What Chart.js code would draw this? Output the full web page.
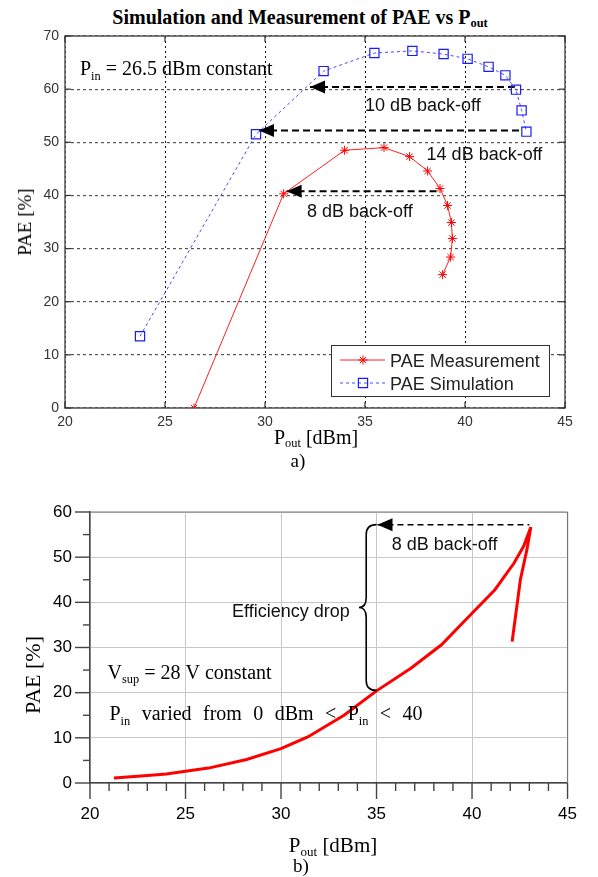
<!DOCTYPE html>
<html>
<head>
<meta charset="utf-8">
<script src="https://cdn.jsdelivr.net/npm/chart.js@4.4.1/dist/chart.umd.min.js"></script>
<style>
  body { margin: 0; background: #fff; }
  #page { position: relative; width: 598px; height: 877px; overflow: hidden; }
  .lbl { position: absolute; white-space: nowrap; font-family: "Liberation Serif", "Times New Roman", serif; color: #000; transform: translate(-50%, -50%); }
  .lbl sub { font-size: 0.62em; vertical-align: baseline; position: relative; top: 0.28em; }
  .rot { transform: translate(-50%, -50%) rotate(-90deg); }
  canvas { position: absolute; left: 0; }
</style>
</head>
<body>
<div id="page">
  <div class="lbl" style="left:300px;top:17px;font-weight:bold;font-size:20px">Simulation and Measurement of PAE vs P<sub>out</sub></div>
  <canvas id="topChart" width="598" height="470" style="top:0"></canvas>
  <div class="lbl rot" style="left:25px;top:222px;font-size:19px">PAE [%]</div>
  <div class="lbl" style="left:316px;top:437px;font-size:20px">P<sub>out</sub> [dBm]</div>
  <div class="lbl" style="left:298px;top:461px;font-size:19px">a)</div>

  <canvas id="bottomChart" width="598" height="397" style="top:480px"></canvas>
  <div class="lbl rot" style="left:33px;top:675px;font-size:22px">PAE [%]</div>
  <div class="lbl" style="left:333px;top:845px;font-size:21px">P<sub>out</sub> [dBm]</div>
  <div class="lbl" style="left:301px;top:866px;font-size:19px">b)</div>
</div>
<script>
const SANS = '"Liberation Sans", Arial, sans-serif'
const SERIF = '"Liberation Serif", "Times New Roman", serif'

// ---- chart a) : measured and simulated PAE vs Pout ----
const measX = [26.45, 30.93, 33.98, 35.95, 37.23, 38.13, 38.75, 39.13, 39.32, 39.37, 39.28, 38.88]
const measY = [0, 40.3, 48.5, 49.0, 47.3, 44.6, 41.3, 38.1, 34.9, 31.9, 28.4, 25.1]
const simX = [23.75, 29.55, 32.93, 35.47, 37.37, 38.93, 40.13, 41.18, 42.02, 42.55, 42.83, 43.07]
const simY = [13.5, 51.5, 63.4, 66.8, 67.2, 66.6, 65.7, 64.2, 62.6, 59.9, 56.0, 52.0]
const topXTicks = [20, 25, 30, 35, 40, 45]
const topYTicks = [0, 10, 20, 30, 40, 50, 60, 70]
// back-off arrows: tip (left), start (right), level
const topArrowTip = [32.25, 29.7, 31.08]
const topArrowFrom = [42.55, 42.83, 38.58]
const topArrowY = [60.4, 52.2, 40.8]
const topNotes = ["10 dB back-off", "14 dB back-off", "8 dB back-off"]
const topNoteX = [35.0, 38.08, 32.1]
const topNoteY = [57.1, 47.9, 37.1]

// ---- chart b) : PAE vs Pout with Pin sweep ----
const sweepX = [21.25, 22.5, 24.0, 25.0, 26.2, 28.2, 30.0, 31.4, 33.3, 35.0, 36.8, 38.4, 40.0, 41.2, 42.2, 42.7, 43.08, 42.87, 42.53, 42.1]
const sweepY = [1.1, 1.5, 2.0, 2.6, 3.3, 5.2, 7.6, 10.2, 15.0, 20.4, 25.4, 30.6, 37.6, 42.8, 48.7, 52.4, 56.7, 51.6, 45.0, 31.3]
const botXTicks = [20, 25, 30, 35, 40, 45]
const botYTicks = [0, 10, 20, 30, 40, 50, 60]
const botArrowTip = 35.05
const botArrowFrom = 43.0
const botArrowY = 57.2
// efficiency drop brace (spine x, tip x, from y, to y)
const braceX = 34.46, braceTipX = 34.08, braceEndX = 35.0, braceTop = 57.2, braceBottom = 20.5

function pts(xs, ys) {
    return xs.map((x, i) => ({x: x, y: ys[i]}))
}

function line(ctx, x1, y1, x2, y2) {
    ctx.beginPath(); ctx.moveTo(x1, y1); ctx.lineTo(x2, y2); ctx.stroke()
}

// text with subscripts: parts = [[text, isSub], ...], y = baseline
function richText(ctx, parts, x, y, size, family, gap) {
    let cx = x
    parts.forEach(p => {
        if (p[0] === ' ') { cx += gap; return }
        ctx.font = (p[1] ? size * 0.62 : size) + 'px ' + family
        ctx.fillText(p[0], cx, p[1] ? y + size * 0.22 : y)
        cx += ctx.measureText(p[0]).width
    })
}

function arrowHead(ctx, px, py, len, half) {
    ctx.beginPath()
    ctx.moveTo(px, py)
    ctx.lineTo(px + len, py - half)
    ctx.lineTo(px + len, py + half)
    ctx.closePath()
    ctx.fill()
}

const topDecor = {
    id: 'topDecor',
    afterDatasetsDraw(chart) {
        const {ctx, chartArea: a, scales: {x, y}} = chart
        ctx.save()
        // frame and inner ticks, matlab style
        ctx.strokeStyle = '#555'; ctx.lineWidth = 1.5
        ctx.strokeRect(a.left, a.top, a.right - a.left, a.bottom - a.top)
        ctx.lineWidth = 1.2; ctx.strokeStyle = '#333'
        topXTicks.forEach(v => {
            const px = x.getPixelForValue(v)
            line(ctx, px, a.bottom, px, a.bottom - 6)
            line(ctx, px, a.top, px, a.top + 6)
        })
        topYTicks.forEach(v => {
            const py = y.getPixelForValue(v)
            line(ctx, a.left, py, a.left + 6, py)
            line(ctx, a.right, py, a.right - 6, py)
        })
        // arrow heads
        ctx.fillStyle = '#000'
        topArrowTip.forEach((t, i) => arrowHead(ctx, x.getPixelForValue(t), y.getPixelForValue(topArrowY[i]), 15, 6.5))
        // notes
        ctx.fillStyle = '#111'; ctx.textBaseline = 'alphabetic'
        ctx.font = '18px ' + SANS
        topNotes.forEach((t, i) => ctx.fillText(t, x.getPixelForValue(topNoteX[i]), y.getPixelForValue(topNoteY[i]) + 6.5))
        ctx.fillStyle = '#000'
        richText(ctx, [['P', 0], ['in', 1], [' = 26.5 dBm constant', 0]], x.getPixelForValue(20.75), y.getPixelForValue(63.9) + 7, 20, SERIF, 0)
        // legend box
        const bw = 218, bh = 51
        const bx = a.right - 16 - bw, by = a.bottom - 12 - bh
        ctx.fillStyle = '#fff'; ctx.fillRect(bx, by, bw, bh)
        ctx.strokeStyle = '#333'; ctx.lineWidth = 1; ctx.strokeRect(bx + 0.5, by + 0.5, bw, bh)
        const rows = chart.data.datasets.slice(0, 2)
        rows.forEach((ds, i) => {
            const ly = by + 15 + i * 23
            ctx.strokeStyle = ds.borderColor; ctx.lineWidth = 1
            ctx.setLineDash(ds.borderDash || [])
            line(ctx, bx + 9, ly, bx + 54, ly)
            ctx.setLineDash([])
            ctx.strokeStyle = ds.pointBorderColor; ctx.lineWidth = ds.pointBorderWidth
            ctx.fillStyle = 'rgba(0,0,0,0)'
            Chart.helpers.drawPoint(ctx, {pointStyle: ds.pointStyle, radius: ds.pointRadius, borderWidth: ds.pointBorderWidth}, bx + 32, ly)
            ctx.fillStyle = '#222'; ctx.font = '18px ' + SANS
            ctx.fillText(ds.label, bx + 59, ly + 6.5)
        })
        ctx.restore()
    }
}

const bottomDecor = {
    id: 'bottomDecor',
    afterDatasetsDraw(chart) {
        const {ctx, chartArea: a, scales: {x, y}} = chart
        ctx.save()
        // top / right frame
        ctx.strokeStyle = '#777'; ctx.lineWidth = 1.2
        line(ctx, a.left, a.top, a.right, a.top)
        line(ctx, a.right, a.top, a.right, a.bottom)
        // outside ticks with minor ticks
        ctx.strokeStyle = '#444'; ctx.lineWidth = 1.4
        for (let v = 20; v <= 45; v++) {
            const px = x.getPixelForValue(v)
            line(ctx, px, a.bottom, px, a.bottom + (v % 5 === 0 ? 16 : 8))
        }
        for (let v = 0; v <= 60; v += 5) {
            const py = y.getPixelForValue(v)
            line(ctx, a.left, py, a.left - (v % 10 === 0 ? 15 : 7), py)
        }
        // arrow head
        ctx.fillStyle = '#000'
        arrowHead(ctx, x.getPixelForValue(botArrowTip), y.getPixelForValue(botArrowY), 15, 6.5)
        // brace
        const xs = x.getPixelForValue(braceX), xt = x.getPixelForValue(braceTipX), xe = x.getPixelForValue(braceEndX)
        const y0 = y.getPixelForValue(braceTop), y1 = y.getPixelForValue(braceBottom), ym = (y0 + y1) / 2, r = 10
        ctx.strokeStyle = '#000'; ctx.lineWidth = 1.6
        ctx.beginPath()
        ctx.moveTo(xe, y0)
        ctx.quadraticCurveTo(xs, y0, xs, y0 + r)
        ctx.lineTo(xs, ym - r)
        ctx.quadraticCurveTo(xs, ym, xt, ym)
        ctx.quadraticCurveTo(xs, ym, xs, ym + r)
        ctx.lineTo(xs, y1 - r)
        ctx.quadraticCurveTo(xs, y1, xe, y1)
        ctx.stroke()
        // notes
        ctx.fillStyle = '#111'; ctx.textBaseline = 'alphabetic'
        ctx.font = '18px ' + SANS
        ctx.fillText('8 dB back-off', x.getPixelForValue(35.8), y.getPixelForValue(53.1) + 6.5)
        ctx.textAlign = 'right'
        ctx.fillText('Efficiency drop', x.getPixelForValue(33.6), y.getPixelForValue(38.3) + 6.5)
        ctx.textAlign = 'left'
        ctx.fillStyle = '#000'
        richText(ctx, [['V', 0], ['sup', 1], [' = 28 V constant', 0]], x.getPixelForValue(20.92), y.getPixelForValue(24.6) + 7, 20, SERIF, 0)
        // justified line
        const words = [[['P', 0], ['in', 1]], [['varied', 0]], [['from', 0]], [['0', 0]], [['dBm', 0]], [['<', 0]], [['P', 0], ['in', 1]], [['<', 0]], [['40', 0]]]
        let wsum = 0
        words.forEach(w => w.forEach(p => { ctx.font = (p[1] ? 12.4 : 20) + 'px ' + SERIF; wsum += ctx.measureText(p[0]).width }))
        const gap = (313 - wsum) / (words.length - 1)
        const parts = []
        words.forEach((w, i) => { if (i) parts.push([' ', 0]); w.forEach(p => parts.push(p)) })
        richText(ctx, parts, x.getPixelForValue(21.02), y.getPixelForValue(15.4) + 7, 20, SERIF, gap)
        ctx.restore()
    }
}

const arrowSets = topArrowTip.map((t, i) => ({
    data: [{x: t, y: topArrowY[i]}, {x: topArrowFrom[i], y: topArrowY[i]}],
    borderColor: '#000', borderWidth: 2, borderDash: [7, 4], pointRadius: 0
}))

new Chart(document.getElementById('topChart'), {
    type: 'line',
    data: {
        datasets: [
            {
                label: 'PAE Measurement', data: pts(measX, measY),
                borderColor: '#ff2020', borderWidth: 1, tension: 0,
                pointStyle: 'star', pointRadius: 4.5, pointBorderColor: '#ff0000', pointBorderWidth: 1
            },
            {
                label: 'PAE Simulation', data: pts(simX, simY),
                borderColor: '#4a4aff', borderWidth: 1, borderDash: [3, 3], tension: 0,
                pointStyle: 'rect', pointRadius: 6.5, pointBorderColor: '#1a1aff',
                pointBackgroundColor: 'rgba(0,0,0,0)', pointBorderWidth: 1.2
            },
            ...arrowSets
        ]
    },
    options: {
        responsive: false, animation: false,
        layout: {padding: {top: 36, right: 33, left: 0, bottom: 0}},
        plugins: {legend: {display: false}, tooltip: {enabled: false}},
        scales: {
            x: {
                type: 'linear', min: 20, max: 45,
                afterFit: s => { s.height = 62 },
                afterBuildTicks: s => { s.ticks = topXTicks.map(v => ({value: v})) },
                ticks: {font: {family: SANS, size: 14}, color: '#333', padding: 6},
                grid: {color: '#111', lineWidth: 1, drawTicks: false},
                border: {display: false, dash: [2, 3]}
            },
            y: {
                min: 0, max: 70,
                afterFit: s => { s.width = 65 },
                afterBuildTicks: s => { s.ticks = topYTicks.map(v => ({value: v})) },
                ticks: {font: {family: SANS, size: 14}, color: '#333', padding: 6},
                grid: {color: '#555', lineWidth: 1.2, drawTicks: false},
                border: {display: false, dash: [3, 3]}
            }
        }
    },
    plugins: [topDecor]
})

new Chart(document.getElementById('bottomChart'), {
    type: 'line',
    data: {
        datasets: [
            {
                label: 'PAE', data: pts(sweepX, sweepY),
                borderColor: '#ff0000', borderWidth: 3, tension: 0, pointRadius: 0
            },
            {
                data: [{x: botArrowTip, y: botArrowY}, {x: botArrowFrom, y: botArrowY}],
                borderColor: '#000', borderWidth: 1.5, borderDash: [6, 4], pointRadius: 0
            }
        ]
    },
    options: {
        responsive: false, animation: false,
        layout: {padding: {top: 32, right: 20, left: 0, bottom: 0}},
        plugins: {legend: {display: false}, tooltip: {enabled: false}},
        scales: {
            x: {
                type: 'linear', min: 20, max: 45,
                afterFit: s => { s.height = 94 },
                afterBuildTicks: s => { s.ticks = botXTicks.map(v => ({value: v})) },
                ticks: {font: {family: SANS, size: 17}, color: '#000', padding: 21},
                grid: {color: '#c8c8c8', lineWidth: 1, drawTicks: false},
                border: {color: '#444', width: 1.5}
            },
            y: {
                min: 0, max: 60,
                afterFit: s => { s.width = 90 },
                afterBuildTicks: s => { s.ticks = botYTicks.map(v => ({value: v})) },
                ticks: {font: {family: SANS, size: 17}, color: '#000', padding: 18},
                grid: {color: '#c8c8c8', lineWidth: 1, drawTicks: false},
                border: {color: '#444', width: 1.5}
            }
        }
    },
    plugins: [bottomDecor]
})
</script>
</body>
</html>
